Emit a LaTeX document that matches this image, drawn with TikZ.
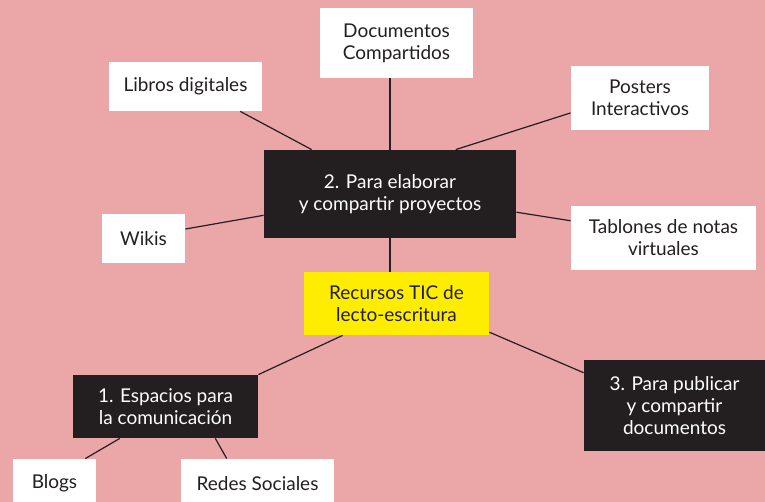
\documentclass[tikz,border=0pt]{standalone}
\usepackage{fontspec}
\setmainfont{Lato}
\usetikzlibrary{calc}
\definecolor{rosa}{RGB}{235,166,168}
\definecolor{tinta}{RGB}{35,31,32}
\definecolor{amarillo}{RGB}{255,237,0}
\tikzset{
  caja/.style={inner sep=0pt, align=center, font=\fontsize{9.5}{11}\selectfont},
  hoja/.style={caja, fill=white, text=tinta},
  tema/.style={caja, fill=tinta, text=white},
  centro/.style={caja, fill=amarillo, text=tinta},
  enlace/.style={draw=tinta, line width=0.6pt}
}
\begin{document}
\begin{tikzpicture}[x=0.5pt, y=-0.5pt]
    \useasboundingbox (0,0) rectangle (765,502);
    \clip (0,0) rectangle (765,502);
    \fill[rosa] (0,0) rectangle (765,502);
    % bloque 2
    \node[tema, minimum width=126pt, minimum height=44pt] (elab) at (390,194) {2. Para elaborar\\y compartir proyectos};
    \node[hoja, minimum width=76.5pt, minimum height=24.5pt] (libros) at (185.5,86.5) {Libros digitales};
    \node[hoja, minimum width=76.5pt, minimum height=35pt] (docs) at (396.5,43) {Documentos\\Compartidos};
    \node[hoja, minimum width=69pt, minimum height=32pt] (posters) at (640,98) {Posters\\Interactivos};
    \node[hoja, minimum width=92.5pt, minimum height=32pt] (tablones) at (663.5,238) {Tablones de notas\\virtuales};
    \node[hoja, minimum width=41.5pt, minimum height=24.5pt] (wikis) at (143.5,238.5) {Wikis};
    % centro
    \node[centro, minimum width=92.5pt, minimum height=31.5pt] (recursos) at (396.5,303.5) {Recursos TIC de\\lecto-escritura};
    % bloques 1 y 3
    \node[tema, minimum width=92.5pt, minimum height=31.5pt] (espacios) at (165.5,406.5) {1. Espacios para\\la comunicación};
    \node[tema, minimum width=90.5pt, minimum height=45.5pt] (publicar) at (674.5,405.5) {3. Para publicar\\y compartir\\documentos};
    \node[hoja, minimum width=41.5pt, minimum height=24.5pt] (blogs) at (54.5,483.5) {Blogs};
    \node[hoja, minimum width=76.5pt, minimum height=24.5pt] (redes) at (257.5,483.5) {Redes Sociales};
    % enlaces
    \draw[enlace] ($(libros.south west)!0.856!(libros.south east)$) -- ($(elab.north west)!0.19!(elab.north east)$);
    \draw[enlace] (elab.north) -- (elab.north |- docs.south);
    \draw[enlace] ($(elab.north west)!0.76!(elab.north east)$) -- ($(posters.south west)!0.27!(posters.north west)$);
    \draw[enlace] ($(elab.south east)!0.295!(elab.north east)$) -- ($(tablones.south west)!0.766!(tablones.north west)$);
    \draw[enlace] ($(wikis.south east)!0.69!(wikis.north east)$) -- ($(elab.south west)!0.26!(elab.north west)$);
    \draw[enlace] (elab.south) -- (elab.south |- recursos.north);
    \draw[enlace] ($(recursos.south west)!0.21!(recursos.south east)$) -- (espacios.north east);
    \draw[enlace] ($(recursos.south east)!0.05!(recursos.north east)$) -- ($(publicar.south west)!0.857!(publicar.north west)$);
    \draw[enlace] ($(espacios.south west)!0.254!(espacios.south east)$) -- ($(blogs.north west)!0.867!(blogs.north east)$);
    \draw[enlace] ($(espacios.south west)!0.768!(espacios.south east)$) -- ($(redes.north west)!0.30!(redes.north east)$);
\end{tikzpicture}
\end{document}
